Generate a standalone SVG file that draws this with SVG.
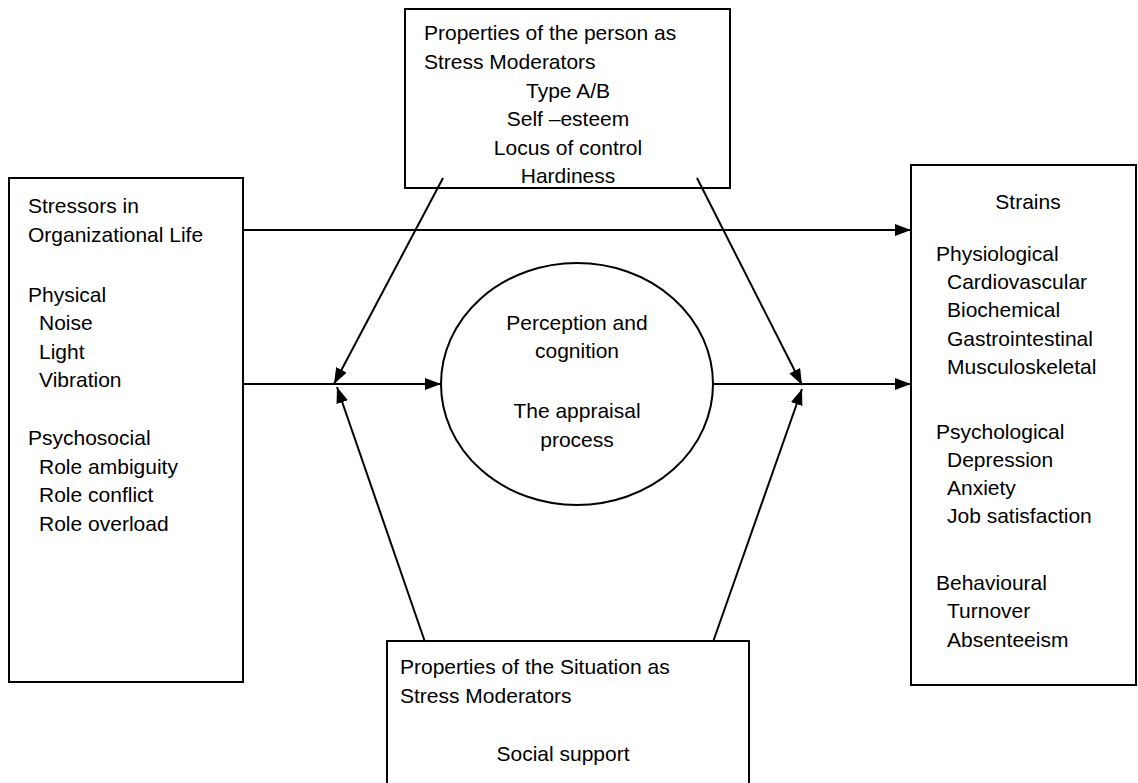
<svg xmlns="http://www.w3.org/2000/svg" width="1138" height="783" viewBox="0 0 1138 783">
<style>
.box{fill:#fff;stroke:#000;stroke-width:2}
.t{font-family:"Liberation Sans",Arial,sans-serif;font-size:21px;fill:#000}
.c{text-anchor:middle}
.ln{stroke:#000;stroke-width:2;fill:none}
</style>
<defs>
<marker id="ah" viewBox="0 0 16 12" refX="16" refY="6" markerWidth="16" markerHeight="12" markerUnits="userSpaceOnUse" orient="auto">
<path d="M0,0 L16,6 L0,12 z" fill="#000"/>
</marker>
</defs>
<rect width="1138" height="783" fill="#fff"/>
<g id="person">
<rect class="box" x="405" y="9" width="325" height="179"/>
<text class="t" x="424" y="40">Properties of the person as</text>
<text class="t" x="424" y="69">Stress Moderators</text>
<text class="t c" x="568" y="98">Type A/B</text>
<text class="t c" x="568" y="126">Self –esteem</text>
<text class="t c" x="568" y="155">Locus of control</text>
<text class="t c" x="568" y="183">Hardiness</text>
</g>
<g id="situation">
<rect class="box" x="387" y="641" width="362" height="160"/>
<text class="t" x="400" y="674">Properties of the Situation as</text>
<text class="t" x="400" y="703">Stress Moderators</text>
<text class="t c" x="563" y="761">Social support</text>
</g>
<g id="stressors">
<rect class="box" x="9" y="178" width="234" height="504"/>
<text class="t" x="28" y="213">Stressors in</text>
<text class="t" x="28" y="242">Organizational Life</text>
<text class="t" x="28" y="302">Physical</text>
<text class="t" x="39" y="330">Noise</text>
<text class="t" x="39" y="359">Light</text>
<text class="t" x="39" y="387">Vibration</text>
<text class="t" x="28" y="445">Psychosocial</text>
<text class="t" x="39" y="474">Role ambiguity</text>
<text class="t" x="39" y="502">Role conflict</text>
<text class="t" x="39" y="531">Role overload</text>
</g>
<g id="strains">
<rect class="box" x="911" y="165" width="225" height="520"/>
<text class="t c" x="1028" y="209">Strains</text>
<text class="t" x="936" y="261">Physiological</text>
<text class="t" x="947" y="289">Cardiovascular</text>
<text class="t" x="947" y="317">Biochemical</text>
<text class="t" x="947" y="346">Gastrointestinal</text>
<text class="t" x="947" y="374">Musculoskeletal</text>
<text class="t" x="936" y="439">Psychological</text>
<text class="t" x="947" y="467">Depression</text>
<text class="t" x="947" y="495">Anxiety</text>
<text class="t" x="947" y="523">Job satisfaction</text>
<text class="t" x="936" y="590">Behavioural</text>
<text class="t" x="947" y="618">Turnover</text>
<text class="t" x="947" y="647">Absenteeism</text>
</g>
<g id="appraisal">
<ellipse class="box" cx="577" cy="384" rx="136" ry="121"/>
<text class="t c" x="577" y="330">Perception and</text>
<text class="t c" x="577" y="358">cognition</text>
<text class="t c" x="577" y="418">The appraisal</text>
<text class="t c" x="577" y="447">process</text>
</g>
<g id="connectors">
<line class="ln" x1="243" y1="230" x2="911" y2="230" marker-end="url(#ah)"/>
<line class="ln" x1="243" y1="384" x2="441" y2="384" marker-end="url(#ah)"/>
<line class="ln" x1="713" y1="384" x2="911" y2="384" marker-end="url(#ah)"/>
<line class="ln" x1="443" y1="178" x2="334" y2="384" marker-end="url(#ah)"/>
<line class="ln" x1="425" y1="642" x2="337" y2="387" marker-end="url(#ah)"/>
<line class="ln" x1="697" y1="178" x2="802" y2="385" marker-end="url(#ah)"/>
<line class="ln" x1="713" y1="642" x2="802" y2="389" marker-end="url(#ah)"/>
</g>
</svg>
